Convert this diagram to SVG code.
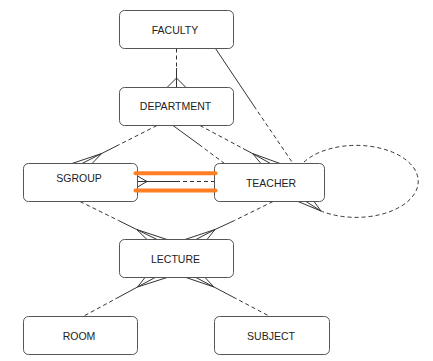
<svg xmlns="http://www.w3.org/2000/svg" width="433" height="361" viewBox="0 0 433 361">
<style>
.box{fill:#fff;stroke:#555;stroke-width:1}
.lbl{font-family:"Liberation Sans",Arial,sans-serif;font-size:10.5px;fill:#222;text-anchor:middle}
.s{fill:none;stroke:#333;stroke-width:1}
.d{fill:none;stroke:#333;stroke-width:1;stroke-dasharray:4 3}
.hl{stroke:#ff7f27;stroke-width:4;stroke-linecap:round}
</style>
<rect width="433" height="361" fill="#fff"/>
<g id="connectors">
<!-- FACULTY - DEPARTMENT -->
<line class="d" x1="176.5" y1="48.5" x2="176.5" y2="68"/>
<polyline class="s" points="176.5,68 176.5,87.5"/>
<polyline class="s" points="167,87.5 176.5,78 186,87.5"/>
<!-- FACULTY - TEACHER -->
<line class="s" x1="215.5" y1="48.5" x2="254" y2="106"/>
<line class="d" x1="254" y1="106" x2="293" y2="163.5"/>
<!-- DEPARTMENT - SGROUP -->
<line class="d" x1="157" y1="125.5" x2="119.5" y2="144.5"/>
<line class="s" x1="119.5" y1="144.5" x2="101.7" y2="153.5"/>
<polyline class="s" points="72,163.5 101.7,153.5 82,163.5"/>
<line class="s" x1="101.7" y1="153.5" x2="92" y2="163.5"/>
<!-- DEPARTMENT - TEACHER (corner) -->
<line class="s" x1="173" y1="125.5" x2="199" y2="144.5"/>
<line class="d" x1="199" y1="144.5" x2="224.5" y2="163.5"/>
<!-- DEPARTMENT - TEACHER (crow) -->
<line class="d" x1="200" y1="125.5" x2="243" y2="148.5"/>
<line class="s" x1="243" y1="148.5" x2="252.5" y2="153.5"/>
<polyline class="s" points="261,163.5 252.5,153.5 280,163.5"/>
<line class="s" x1="252.5" y1="153.5" x2="270.5" y2="163.5"/>
<!-- SGROUP - TEACHER -->
<line class="s" x1="137.5" y1="181.5" x2="176" y2="181.5"/>
<line class="d" x1="176" y1="181.5" x2="214.5" y2="181.5"/>
<polyline class="s" points="137.5,176 147,181.5 137.5,187"/>
<!-- TEACHER self loop -->
<path class="d" d="M304,162 A62 36 0 1 1 321,211"/>
<polyline class="s" points="298,201.5 321,211 314,201.5"/>
<line class="s" x1="306" y1="201.5" x2="321" y2="211"/>
<!-- SGROUP - LECTURE -->
<line class="d" x1="80" y1="201.5" x2="118.5" y2="220.5"/>
<line class="s" x1="118.5" y1="220.5" x2="136.7" y2="229.5"/>
<polyline class="s" points="147,239.5 136.7,229.5 167,239.5"/>
<line class="s" x1="136.7" y1="229.5" x2="157" y2="239.5"/>
<!-- TEACHER - LECTURE -->
<line class="d" x1="273" y1="201.5" x2="234.5" y2="220.5"/>
<line class="s" x1="234.5" y1="220.5" x2="215" y2="229.5"/>
<polyline class="s" points="185,239.5 215,229.5 207,239.5"/>
<line class="s" x1="215" y1="229.5" x2="196" y2="239.5"/>
<!-- LECTURE - ROOM -->
<polyline class="s" points="145,277.5 137.5,287 167,277.5"/>
<line class="s" x1="137.5" y1="287" x2="155" y2="277.5"/>
<line class="s" x1="137.5" y1="287" x2="119" y2="297"/>
<line class="d" x1="119" y1="297" x2="83" y2="316.5"/>
<!-- LECTURE - SUBJECT -->
<polyline class="s" points="186,277.5 214,287 205,277.5"/>
<line class="s" x1="214" y1="287" x2="196" y2="277.5"/>
<line class="s" x1="214" y1="287" x2="233" y2="297"/>
<line class="d" x1="233" y1="297" x2="270" y2="316.5"/>
</g>
<g id="FACULTY"><rect class="box" x="119.5" y="10.5" width="114" height="38" rx="5"/><text class="lbl" x="175" y="34">FACULTY</text></g>
<g id="DEPARTMENT"><rect class="box" x="119.5" y="87.5" width="114" height="38" rx="5"/><text class="lbl" x="175.5" y="110">DEPARTMENT</text></g>
<g id="SGROUP"><rect class="box" x="23.5" y="163.5" width="114" height="38" rx="5"/><text class="lbl" x="79" y="182">SGROUP</text></g>
<g id="TEACHER"><rect class="box" x="214.5" y="163.5" width="110" height="38" rx="5"/><text class="lbl" x="271" y="186.5">TEACHER</text></g>
<g id="LECTURE"><rect class="box" x="119.5" y="239.5" width="114" height="38" rx="5"/><text class="lbl" x="175.5" y="263">LECTURE</text></g>
<g id="ROOM"><rect class="box" x="23.5" y="316.5" width="114" height="38" rx="5"/><text class="lbl" x="79" y="340">ROOM</text></g>
<g id="SUBJECT"><rect class="box" x="214.5" y="316.5" width="115" height="38" rx="5"/><text class="lbl" x="271" y="340">SUBJECT</text></g>
<g id="highlight">
<line class="hl" x1="135.5" y1="173.3" x2="215.5" y2="173.3"/>
<line class="hl" x1="135.5" y1="190.5" x2="215.5" y2="190.5"/>
</g>
</svg>
